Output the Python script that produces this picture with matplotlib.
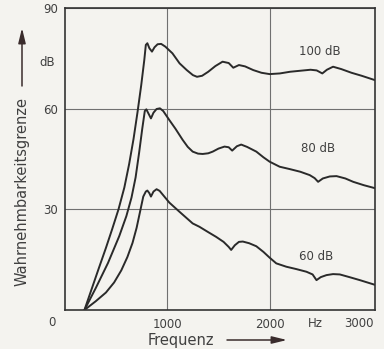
import numpy as np
import matplotlib
matplotlib.use("Agg")
import matplotlib.pyplot as plt

# Hörschwelle (Mithörschwelle) für drei Pegel
f_100 = [190, 260, 330, 400, 460, 523, 580, 627, 670, 709, 745, 775, 790, 805, 825,
         850, 875, 905, 940, 980, 1050, 1120, 1190, 1250, 1290, 1340, 1400, 1470,
         1540, 1600, 1645, 1700, 1760, 1840, 1920, 2000, 2100, 2200, 2300, 2400, 2460,
         2515, 2560, 2620, 2700, 2800, 2900, 3030]
l_100 = [0, 6.2, 12.4, 18.5, 24, 30, 36.5, 43.5, 51, 59, 67, 74.5, 79, 79.5, 78,
         77, 78.3, 79.2, 79.3, 78.5, 76.5, 73.5, 71.5, 70.0, 69.5, 69.8, 71, 72.7,
         74.0, 73.6, 72.2, 73.0, 72.6, 71.5, 70.7, 70.3, 70.5, 71.0, 71.3, 71.6, 71.4,
         70.5, 71.6, 72.5, 71.8, 70.7, 69.8, 68.5]

f_80 = [190, 300, 420, 530, 600, 650, 690, 725, 755, 780, 795, 820, 840, 865, 895,
        928, 960, 1020, 1080, 1150, 1200, 1248, 1300, 1346, 1400, 1444, 1500, 1559,
        1600, 1634, 1680, 1722, 1780, 1870, 1940, 2000, 2098, 2196, 2300, 2392, 2440,
        2474, 2520, 2588, 2654, 2740, 2817, 2920, 3030]
l_80 = [0, 6.5, 14, 22, 28, 33.5, 39.5, 47, 54, 59.3, 59.8, 58.3, 57.1, 58.8, 59.9,
        60.1, 59.3, 56.6, 54.0, 50.7, 48.6, 47.2, 46.6, 46.5, 46.7, 47.2, 48.1, 48.7,
        48.5, 47.5, 48.8, 49.3, 48.6, 47.2, 45.5, 44.2, 42.7, 42.0, 41.2, 40.2, 39.3,
        38.2, 39.2, 39.8, 39.9, 39.2, 38.2, 37.2, 36.3]

f_60 = [190, 300, 400, 480, 550, 610, 660, 700, 735, 765, 790, 805, 825, 840, 865,
        895, 925, 1020, 1118, 1248, 1314, 1400, 1477, 1550, 1600, 1624, 1660, 1700,
        1738, 1800, 1870, 1940, 2000, 2065, 2163, 2260, 2360, 2420, 2458, 2500, 2556,
        2620, 2686, 2780, 2882, 3030]
l_60 = [0, 2.6, 5.2, 8.2, 11.8, 15.8, 20, 24.5, 29.5, 33.8, 35.3, 35.6, 34.8, 33.8, 35.3,
        36.0, 35.5, 32.0, 29.3, 25.8, 24.8, 23.2, 21.8, 20.3, 18.8, 17.9, 19.3, 20.3,
        20.4, 19.9, 19.0, 17.3, 15.6, 13.9, 12.9, 12.2, 11.4, 10.6, 8.9, 9.8, 10.4,
        10.7, 10.6, 9.8, 8.9, 7.5]

curve_labels = ["100 dB", "80 dB", "60 dB"]
label_pos = [(2490, 77), (2470, 48), (2450, 15.8)]

bg = "#f4f3ef"
ink = "#2a2a2a"
txt = "#404040"
plt.rcParams["font.family"] = "DejaVu Sans"

W, H = 384, 349
fig = plt.figure(figsize=(W / 100, H / 100), dpi=100, facecolor=bg)
ax = fig.add_axes([65 / W, 39 / H, 310 / W, 302 / H], facecolor=bg)

for f, l in [(f_100, l_100), (f_80, l_80), (f_60, l_60)]:
    ax.plot(f, l, color=ink, lw=1.4, solid_joinstyle="round", solid_capstyle="round")

for s, (x, y) in zip(curve_labels, label_pos):
    ax.text(x, y, s, ha="center", va="center", fontsize=8.5, color=txt)

ax.set_xlim(0, 3030)
ax.set_ylim(0, 90)
ax.set_xticks([1000, 2000])
ax.set_yticks([30, 60, 90])
ax.grid(True, color="#707070", lw=0.8)
ax.tick_params(length=0, labelsize=8.5, labelcolor=txt)
ax.tick_params(axis="y", pad=5)
ax.tick_params(axis="x", pad=6)
for sp in ax.spines.values():
    sp.set_color("#333333")
    sp.set_linewidth(1.2)

# Achsbeschriftungen und Zusatztexte
fig.text(55 / W, 1 - 62 / H, "dB", ha="right", va="center", fontsize=8.5, color=txt)
fig.text(52 / W, 1 - 323 / H, "0", ha="center", va="center", fontsize=8.5, color=txt)
fig.text(315 / W, 1 - 323.5 / H, "Hz", ha="center", va="center", fontsize=8.5, color=txt)
fig.text(374 / W, 1 - 323.5 / H, "3000", ha="right", va="center", fontsize=8.5, color=txt)

fig.text(22 / W, 1 - 191 / H, "Wahrnehmbarkeitsgrenze", rotation=90,
         ha="center", va="center", fontsize=10.5, color=txt)
fig.text(148 / W, 1 - 340 / H, "Frequenz", ha="left", va="center",
         fontsize=10.5, color=txt)

arrow = dict(arrowstyle="-|>,head_length=0.9,head_width=0.22", color="#3a2c2c",
             lw=1.1, shrinkA=0, shrinkB=0)
ax.annotate("", xy=(22 / W, 1 - 28 / H), xytext=(22 / W, 1 - 86 / H),
            xycoords="figure fraction", textcoords="figure fraction",
            arrowprops=arrow, annotation_clip=False)
ax.annotate("", xy=(287 / W, 1 - 340 / H), xytext=(227 / W, 1 - 340 / H),
            xycoords="figure fraction", textcoords="figure fraction",
            arrowprops=arrow, annotation_clip=False)

fig.savefig("out.png", dpi=100, facecolor=bg)
